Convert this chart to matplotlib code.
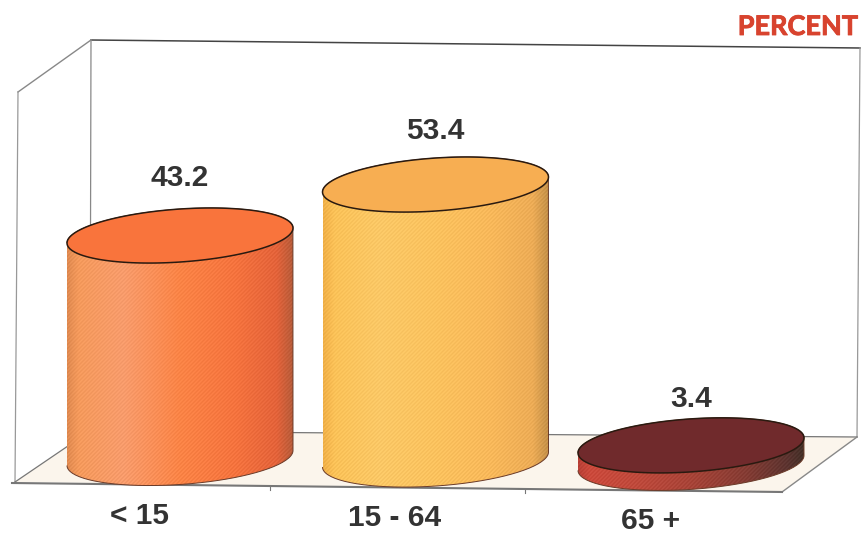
import numpy as np
import matplotlib
matplotlib.use('Agg')
import matplotlib.pyplot as plt
import matplotlib.patheffects as pe
from matplotlib.patches import Polygon, PathPatch
from matplotlib.path import Path

categories = ['< 15', '15 - 64', '65 +']
values = [43.2, 53.4, 3.4]
value_labels = ['43.2', '53.4', '3.4']
floor_shift = [0.0, -0.3, -0.95]  # the floor sinks a little to the right
label_gap = [6.1, 5.25, 3.9]

side_colors = [
    ['#E08A50', '#F59A5C', '#F89C6C', '#FB8446', '#F5733E', '#E4633A', '#B85C3A'],
    ['#F0B048', '#FCC258', '#FCC866', '#FCC25E', '#F8B85A', '#EDAC56', '#C49048'],
    ['#B84036', '#CC4A3C', '#C04A3C', '#A84438', '#843C34', '#5C3430', '#443028'],
]
side_stops = [0, 0.05, 0.25, 0.5, 0.75, 0.93, 1]
top_colors = ['#F9743C', '#F7AE52', '#702A2C']

W, H = 863, 535
px_x = 255.5   # pixels per category
px_y = 5.15    # pixels per percent
x0_px, y0_px = 180, 458
half_w = 113 / px_x
half_h = 26.5 / px_y
tilt = 7.5 / px_y

fig = plt.figure(figsize=(W / 100, H / 100), dpi=100)

# the box the chart stands in, in pixels of the page
bg = fig.add_axes([0, 0, 1, 1], zorder=0)
bg.set_xlim(0, W)
bg.set_ylim(H, 0)
bg.axis('off')
bg.add_patch(Polygon([(15, 482), (90, 431), (857, 437), (782, 492)], closed=True,
                     facecolor='#FBF5EC', edgecolor='none'))
bg.plot([91, 860], [40, 48], color='#444444', lw=1.1)
bg.plot([18, 91], [92, 40], color='#888888', lw=1)
bg.plot([18, 15], [92, 482], color='#999999', lw=0.9)
bg.plot([91, 90], [40, 431], color='#888888', lw=0.9)
bg.plot([860, 857], [48, 437], color='#999999', lw=0.9)
bg.plot([90, 857], [431, 437], color='#777777', lw=0.9)
bg.plot([15, 90], [482, 431], color='#777777', lw=0.9)
bg.plot([782, 857], [492, 437], color='#888888', lw=1)
bg.plot([12, 782], [483, 492], color='#777777', lw=1.5)
for tx, ty in [(270, 486), (525, 489)]:
    bg.plot([tx, tx], [ty, ty + 4], color='#777777', lw=0.8)

ax = fig.add_axes([0, 0, 1, 1], zorder=1)
ax.patch.set_alpha(0)
xlim = (-x0_px / px_x, (W - x0_px) / px_x)
ylim = ((y0_px - H) / px_y, y0_px / px_y)


def rim(cx, cy, t):
    return cx + half_w * np.cos(t), cy + half_h * np.sin(t) + tilt * np.cos(t)


for i, val in enumerate(values):
    base = floor_shift[i]
    top = base + val
    t_low = np.linspace(np.pi, 2 * np.pi, 80)
    t_up = np.linspace(0, np.pi, 80)
    bx, by = rim(i, base, t_low)
    tx, ty = rim(i, top, t_up)
    side = np.column_stack([np.r_[bx, tx], np.r_[by, ty]])

    # side of the cylinder: shaded sideways, with the fine print screen stripes
    lo = base - (half_h + tilt) * 1.1
    hi = top + (half_h + tilt) * 1.1
    n_col = 226
    n_row = max(int((hi - lo) * px_y), 2)
    rgb = np.array([matplotlib.colors.to_rgb(c) for c in side_colors[i]])
    pos = np.linspace(0, 1, n_col)
    grad = np.column_stack([np.interp(pos, side_stops, rgb[:, k]) for k in range(3)])
    img = np.repeat(grad[np.newaxis, :, :], n_row, axis=0)
    rows, cols = np.indices((n_row, n_col))
    img = np.clip(img + 0.02 * (((rows + cols) % 4 < 2) * 2 - 1)[:, :, np.newaxis], 0, 1)
    im = ax.imshow(img, extent=(i - half_w, i + half_w, lo, hi), aspect='auto',
                   interpolation='bilinear', zorder=2)
    clip = PathPatch(Path(side), facecolor='none', edgecolor='#6A3A28', lw=0.7, zorder=3)
    ax.add_patch(clip)
    im.set_clip_path(clip)

    # top of the cylinder
    t_all = np.linspace(0, 2 * np.pi, 160)
    ex, ey = rim(i, top, t_all)
    ax.fill(ex, ey, facecolor=top_colors[i], edgecolor='#2A1A10', lw=1.1, zorder=4)

    ax.text(i, top + half_h + label_gap[i], value_labels[i], ha='center', va='center',
            fontsize=21.5, fontweight='bold', family='Liberation Sans', color='#333333')
    ax.text(i - 0.16, base - 11.3, categories[i], ha='center', va='center',
            fontsize=21.5, fontweight='bold', family='Liberation Sans', color='#333333')

ax.set_xlim(*xlim)
ax.set_ylim(*ylim)
ax.axis('off')

fig.text(858 / W, 1 - 27 / H, 'PERCENT', ha='right', va='center', fontsize=19.5,
         fontweight='bold', family='Lato', color='#D8432E',
         path_effects=[pe.withStroke(linewidth=0.6, foreground='#D8432E')])

fig.savefig('out.png', dpi=100)
